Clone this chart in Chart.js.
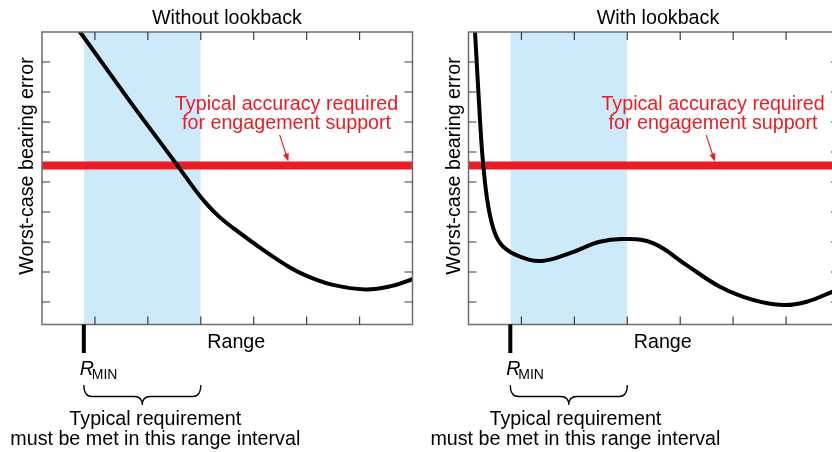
<!DOCTYPE html>
<html>
<head>
<meta charset="utf-8">
<script src="https://cdn.jsdelivr.net/npm/chart.js@4.4.1/dist/chart.umd.min.js"></script>
<style>
  html, body { margin: 0; padding: 0; background: #fff; overflow: hidden; width: 832px; height: 452px; }
  canvas { position: absolute; top: 0; }
  #left { left: 0; }
  #right { left: 416px; }
</style>
</head>
<body>
<canvas id="left" width="416" height="452"></canvas>
<canvas id="right" width="432" height="452"></canvas>
<script>
// range in tick units, error in tick units
const xTicks = [1, 2, 3, 4, 5, 6];
const yTicks = [1, 2, 3, 4, 5, 6, 7, 8, 9];
const rangeInterval = [0.79, 3.0];
const rMin = 0.79;
const requiredAccuracy = 5.55;

const withoutRange = [0.50, 0.718, 1.644, 2.551, 2.834, 3.080, 3.325, 3.609, 4.232, 4.685, 5.001, 5.498, 6.102, 6.575, 7.0];
const withoutError = [10.5, 10, 7.73, 5.57, 4.88, 4.33, 3.88, 3.47, 2.67, 2.15, 1.87, 1.57, 1.42, 1.52, 1.76];

const withRange = [0.10, 0.123, 0.217, 0.28, 0.374, 0.50, 0.657, 0.973, 1.383, 1.918, 2.48, 2.95, 3.486, 4.12, 4.75, 5.375, 5.95, 6.39, 6.87, 7.0];
const withError = [10.5, 10, 7.07, 5.54, 4.18, 3.29, 2.84, 2.51, 2.37, 2.63, 3.01, 3.1, 2.96, 2.23, 1.51, 1.07, 0.9, 1.01, 1.34, 1.45];

const FONT = '"Liberation Sans", Arial, Helvetica, sans-serif';
const RED = '#ed1c24';

const annotate = {
  id: 'annotate',
  afterDraw(chart, args, opts) {
    const { ctx, chartArea: a, scales: { x, y } } = chart;
    ctx.save();

    // frame + inward ticks
    ctx.strokeStyle = '#6e6e6e';
    ctx.lineWidth = 1.5;
    ctx.strokeRect(a.left, a.top, a.right - a.left, a.bottom - a.top);
    ctx.strokeStyle = '#3c3c3c';
    ctx.lineWidth = 1.2;
    ctx.beginPath();
    xTicks.forEach(t => {
      const px = x.getPixelForValue(t);
      ctx.moveTo(px, a.bottom); ctx.lineTo(px, a.bottom - 8);
      ctx.moveTo(px, a.top); ctx.lineTo(px, a.top + 8);
    });
    yTicks.forEach(t => {
      const py = y.getPixelForValue(t);
      ctx.moveTo(a.left, py); ctx.lineTo(a.left + 8, py);
      ctx.moveTo(a.right, py); ctx.lineTo(a.right - 8, py);
    });
    ctx.stroke();

    ctx.font = '19.7px ' + FONT;
    ctx.fillStyle = '#000';
    ctx.textAlign = 'center';
    ctx.textBaseline = 'alphabetic';

    // title
    ctx.fillText(opts.title, x.getPixelForValue(opts.titleX), a.top - 8);

    // axis titles
    ctx.fillText('Range', x.getPixelForValue(3.67), a.bottom + 23.5);
    ctx.save();
    ctx.translate(a.left - 9, a.top + 134);
    ctx.rotate(-Math.PI / 2);
    ctx.fillText('Worst-case bearing error', 0, 0);
    ctx.restore();

    // requirement label + arrow
    ctx.fillStyle = RED;
    const lx = x.getPixelForValue(4.62);
    ctx.fillText('Typical accuracy required', lx, y.getPixelForValue(7.4));
    ctx.fillText('for engagement support', lx, y.getPixelForValue(6.77));
    const ax0 = x.getPixelForValue(4.49), ay0 = y.getPixelForValue(6.57);
    const ax1 = x.getPixelForValue(4.655), ay1 = y.getPixelForValue(5.68);
    const ang = Math.atan2(ay1 - ay0, ax1 - ax0);
    ctx.strokeStyle = RED;
    ctx.lineWidth = 1.2;
    ctx.beginPath();
    ctx.moveTo(ax0, ay0);
    ctx.lineTo(ax1 - 5 * Math.cos(ang), ay1 - 5 * Math.sin(ang));
    ctx.stroke();
    ctx.beginPath();
    ctx.moveTo(ax1, ay1);
    ctx.lineTo(ax1 - 8 * Math.cos(ang) + 3 * Math.sin(ang), ay1 - 8 * Math.sin(ang) - 3 * Math.cos(ang));
    ctx.lineTo(ax1 - 8 * Math.cos(ang) - 3 * Math.sin(ang), ay1 - 8 * Math.sin(ang) + 3 * Math.cos(ang));
    ctx.closePath();
    ctx.fill();

    // R_MIN marker
    const rx = x.getPixelForValue(rMin);
    ctx.fillStyle = '#000';
    ctx.fillRect(rx - 2, a.bottom, 4, 28.5);
    ctx.textAlign = 'left';
    ctx.font = 'italic 19.7px ' + FONT;
    ctx.fillText('R', rx - 4, 375);
    ctx.font = '14px ' + FONT;
    ctx.fillText('MIN', rx + 8, 379);

    // brace under the range interval
    const b0 = x.getPixelForValue(rangeInterval[0]);
    const b1 = x.getPixelForValue(rangeInterval[1]);
    const bm = (b0 + b1) / 2;
    const yTop = 385, yMid = 396.5, yTip = 405, r = 8;
    ctx.strokeStyle = '#000';
    ctx.lineWidth = 1.3;
    ctx.beginPath();
    ctx.moveTo(b0, yTop);
    ctx.quadraticCurveTo(b0, yMid, b0 + r, yMid);
    ctx.lineTo(bm - r, yMid);
    ctx.quadraticCurveTo(bm, yMid, bm, yTip);
    ctx.quadraticCurveTo(bm, yMid, bm + r, yMid);
    ctx.lineTo(b1 - r, yMid);
    ctx.quadraticCurveTo(b1, yMid, b1, yTop);
    ctx.stroke();

    ctx.textAlign = 'center';
    ctx.font = '19.7px ' + FONT;
    const nx = x.getPixelForValue(opts.noteX);
    ctx.fillText('Typical requirement', nx, 425);
    ctx.fillText('must be met in this range interval', nx, 445);

    ctx.restore();
  }
};

function makePanel(id, rangeVals, errorVals, padding, title, titleX, noteX) {
  return new Chart(document.getElementById(id), {
    type: 'line',
    data: {
      datasets: [
        {
          label: 'Worst-case bearing error',
          data: rangeVals.map((r, i) => ({ x: r, y: errorVals[i] })),
          borderColor: '#000',
          borderWidth: 4,
          pointRadius: 0,
          tension: 0.4,
          capBezierPoints: false,
          clip: 0,
          order: 0
        },
        {
          label: 'Required accuracy',
          data: [{ x: 0, y: requiredAccuracy }, { x: 7, y: requiredAccuracy }],
          borderColor: RED,
          borderWidth: 8,
          pointRadius: 0,
          clip: 0,
          order: 1
        },
        {
          label: 'Requirement interval',
          data: [{ x: rangeInterval[0], y: 10 }, { x: rangeInterval[1], y: 10 }],
          borderColor: 'transparent',
          borderWidth: 0,
          backgroundColor: '#cdeafa',
          fill: 'start',
          pointRadius: 0,
          order: 2
        }
      ]
    },
    options: {
      responsive: false,
      animation: false,
      devicePixelRatio: 1,
      layout: { padding: padding },
      scales: {
        x: { type: 'linear', min: 0, max: 7, display: false },
        y: { type: 'linear', min: 0.25, max: 10, display: false }
      },
      plugins: {
        legend: { display: false },
        tooltip: { enabled: false },
        annotate: { title: title, titleX: titleX, noteX: noteX }
      }
    },
    plugins: [annotate]
  });
}

makePanel('left', withoutRange, withoutError, { left: 42, right: 3.5, top: 32, bottom: 127.5 }, 'Without lookback', 3.495, 2.14);
makePanel('right', withRange, withError, { left: 52.5, right: 9, top: 32, bottom: 127.5 }, 'With lookback', 3.58, 2.02);
</script>
</body>
</html>
